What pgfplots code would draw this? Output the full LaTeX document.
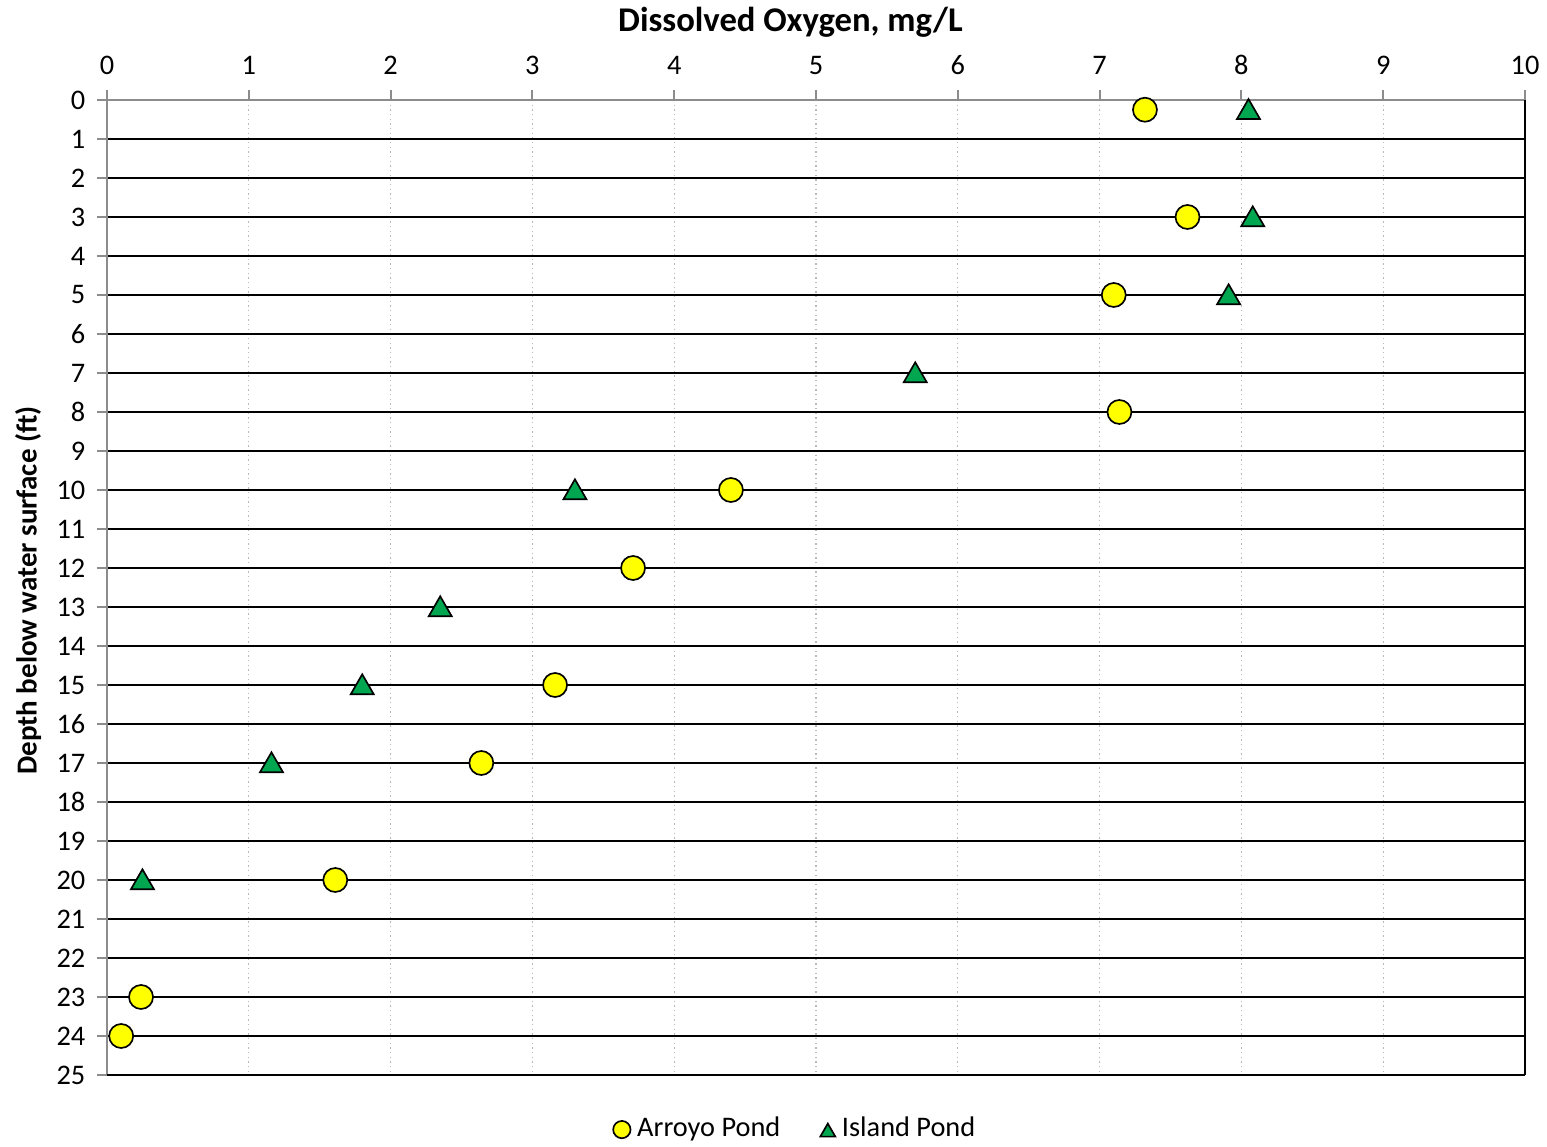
\documentclass[border=0pt]{standalone}
\usepackage{pgfplots}
\pgfplotsset{compat=1.18}
\usepackage{fontspec}
\setmainfont{Carlito}
\definecolor{ayellow}{RGB}{255,255,0}
\definecolor{igreen}{RGB}{0,166,80}
\begin{document}
\begin{tikzpicture}
\useasboundingbox (-32.1pt,-21.6pt) rectangle (432pt,322.5pt);
\begin{axis}[
  scale only axis,
  width=425.4pt, height=292.5pt,
  xmin=0, xmax=10, ymin=0, ymax=25,
  y dir=reverse,
  axis x line*=top, axis y line*=left,
  axis line style={draw=gray!90, line width=0.8pt},
  xtick={0,...,10}, ytick={0,...,25},
  tick align=outside, major tick length=3pt,
  tick style={draw=gray!90, line width=0.6pt},
  xmajorgrids, ymajorgrids,
  x grid style={draw=gray!55, densely dotted, line width=0.4pt},
  y grid style={draw=black, line width=0.6pt},
  tick label style={font=\fontsize{8.5}{10}\selectfont},
  /pgf/number format/assume math mode=true,
  xticklabel style={yshift=1pt},
  xlabel={\textbf{Dissolved Oxygen, mg/L}},
  ylabel={\textbf{Depth below water surface (ft)}},
  xlabel style={font=\fontsize{10.4}{12}\selectfont, at={(axis description cs:0.482,1.08)}, anchor=center},
  ylabel style={font=\fontsize{8.7}{10}\selectfont, at={(axis description cs:-0.0557,0.497)}, anchor=center, rotate=0},
  legend style={at={(axis description cs:0.487,-0.056)}, anchor=center, draw=none, fill=none,
    font=\fontsize{8.5}{10}\selectfont, column sep=0pt, /tikz/every even column/.append style={column sep=10pt}},
  legend columns=2,
  legend image code/.code={\draw[#1, mark size=2.6pt] plot coordinates {(0pt,0pt)};},
  clip=false,
]
\addplot[only marks, mark=*, mark size=3.6pt, mark options={fill=ayellow, draw=black, line width=0.5pt}]
  coordinates {(7.32,0.25) (7.62,3) (7.10,5) (7.14,8) (4.40,10) (3.71,12) (3.16,15) (2.64,17) (1.61,20) (0.24,23) (0.10,24)};
\addlegendentry{Arroyo Pond}
\addplot[only marks, mark=triangle*, mark size=4pt, mark options={fill=igreen, draw=black, line width=0.5pt, yshift=-0.8pt}]
  coordinates {(8.05,0.25) (8.08,3) (7.91,5) (5.70,7) (3.30,10) (2.35,13) (1.80,15) (1.16,17) (0.25,20)};
\addlegendentry{Island Pond}
\draw[black, line width=0.8pt] (axis cs:10,0) -- (axis cs:10,25);
\draw[black, line width=0.8pt] (axis cs:0,25) -- (axis cs:10,25);
\end{axis}
\end{tikzpicture}
\end{document}
